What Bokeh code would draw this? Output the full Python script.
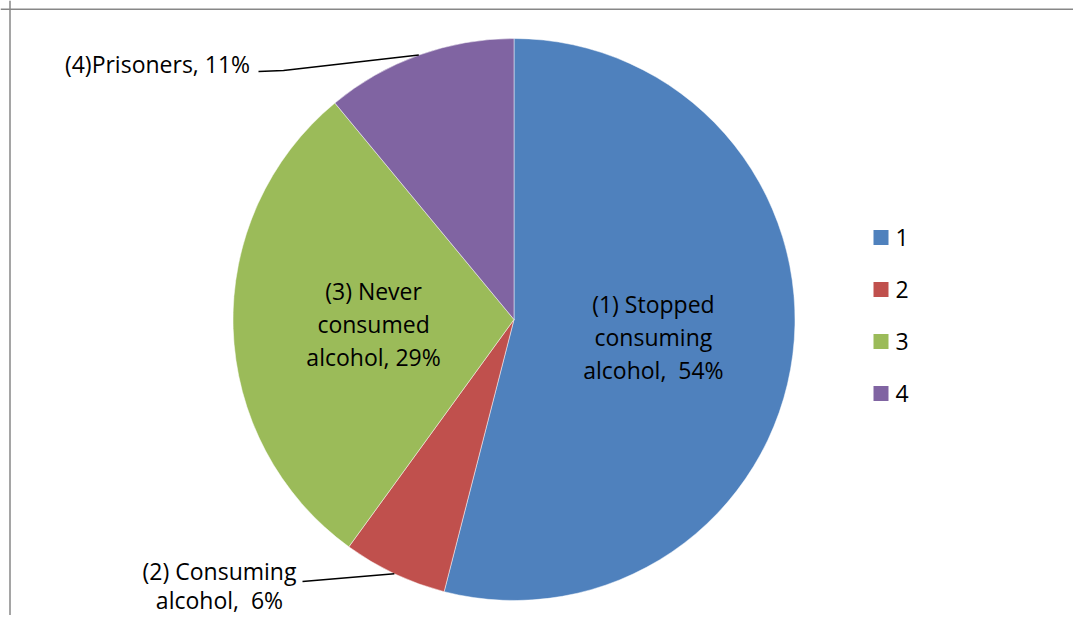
import numpy as np
from bokeh.plotting import figure
from bokeh.models import Range1d, Span, ColumnDataSource
from bokeh.core.properties import value
from bokeh.embed import file_html
from bokeh.resources import INLINE

# ---- data ----
categories = ["1", "2", "3", "4"]
shares = [54, 6, 29, 11]
slice_labels = [
    "(1) Stopped\nconsuming\nalcohol,\u00a0 54%",
    "(2) Consuming\nalcohol,\u00a0 6%",
    "(3) Never\nconsumed\nalcohol, 29%",
    "(4)Prisoners, 11%",
]
colors = ["#4F81BD", "#C0504D", "#9BBB59", "#8064A2"]

# ---- layout ----
W, H = 1073, 615
FONT = "Open Sans"
FS = "23px"
LH = 1.02


def Y(py):
    # picture pixel row -> data y (1 data unit = 1 px)
    return H - py


cx, cy, R = 513.5, Y(319), 281.0

frac = np.array(shares, dtype=float) / np.sum(shares)
cum = np.concatenate([[0.0], np.cumsum(frac)[:-1]])
starts = np.pi / 2 - 2 * np.pi * cum
ends = starts - 2 * np.pi * frac
mids = (starts + ends) / 2

p = figure(width=W, height=H, x_range=Range1d(0, W), y_range=Range1d(0, H),
           output_backend="svg", toolbar_location=None, min_border=0,
           x_axis_location=None, y_axis_location=None)
p.grid.visible = False
p.outline_line_color = None
p.background_fill_color = "white"
p.border_fill_color = "white"

# chart frame (left and top edges visible)
p.add_layout(Span(location=9.5, dimension="height", line_color="#878787", line_width=1.5))
p.add_layout(Span(location=Y(8.7), dimension="width", line_color="#878787", line_width=1.5))

src = ColumnDataSource(dict(start=starts, end=ends, color=colors, cat=categories))
p.wedge(x=cx, y=cy, radius=R, start_angle="start", end_angle="end", direction="clock",
        fill_color="color", line_color="white", line_width=0.8, line_alpha=0.6, source=src)

# inside labels (slices 1 and 3) at half radius along the mid angle
inside = [0, 2]
p.text(x=[cx + 0.5 * R * np.cos(mids[i]) for i in inside],
       y=[cy + 0.5 * R * np.sin(mids[i]) for i in inside],
       text=[slice_labels[i] for i in inside],
       text_align="center", text_baseline="middle", text_font=value(FONT),
       text_font_size=FS, text_line_height=LH, text_color="black")

# outside labels with leader lines starting at the rim at the mid angle
edge = [(cx + R * np.cos(mids[i]), cy + R * np.sin(mids[i])) for i in range(4)]
# slice 4 (purple)
e4 = edge[3]
p.line(x=[e4[0], 283, 258], y=[e4[1], Y(70), Y(71)], line_color="black", line_width=1.5)
p.text(x=[157], y=[Y(63)], text=[slice_labels[3]], text_align="center", text_baseline="middle",
       text_font=value(FONT), text_font_size=FS, text_color="black")
# slice 2 (red)
e2 = edge[1]
p.line(x=[e2[0], 302], y=[e2[1], Y(581)], line_color="black", line_width=1.5)
p.text(x=[219], y=[Y(585)], text=[slice_labels[1]], text_align="center", text_baseline="middle",
       text_font=value(FONT), text_font_size=FS, text_line_height=0.88, text_color="black")

# legend
leg_y = [Y(237 + 52 * i) for i in range(len(categories))]
p.scatter(x=[880.5] * len(categories), y=leg_y, marker="square", size=15,
          fill_color=colors, line_color=None)
p.text(x=[895] * len(categories), y=leg_y, text=categories, text_align="left",
       text_baseline="middle", text_font=value(FONT), text_font_size=FS, text_color="black")

open("out.html", "w").write(file_html(p, INLINE))
